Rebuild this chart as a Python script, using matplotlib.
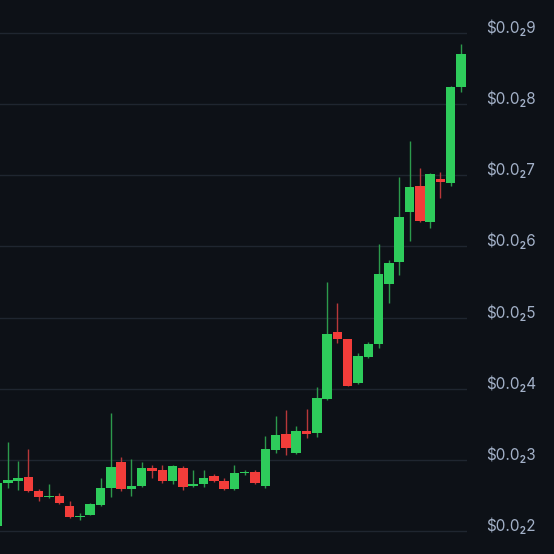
import numpy as np
import matplotlib.pyplot as plt

# candle data (price in $)
opens = [0.002070, 0.002675, 0.002703, 0.002759, 0.002562, 0.002478, 0.002492, 0.002351,
         0.002197, 0.002225, 0.002365, 0.002604, 0.002970, 0.002590, 0.002633, 0.002886,
         0.002857, 0.002703, 0.002886, 0.002633, 0.002661, 0.002773, 0.002703, 0.002590,
         0.002815, 0.002829, 0.002633, 0.003139, 0.003363, 0.003096, 0.003406, 0.003378,
         0.003856, 0.004797, 0.004699, 0.004080, 0.004446, 0.004629, 0.005472, 0.005781,
         0.006484, 0.006850, 0.006344, 0.006948, 0.006892, 0.008241]
highs = [0.002680, 0.003251, 0.002984, 0.003153, 0.002590, 0.002661, 0.002534, 0.002422,
         0.002253, 0.002394, 0.002745, 0.003659, 0.003040, 0.003012, 0.002970, 0.002928,
         0.002928, 0.002928, 0.002914, 0.002857, 0.002857, 0.002801, 0.002745, 0.002928,
         0.002857, 0.002857, 0.003335, 0.003617, 0.003701, 0.003476, 0.003715, 0.004024,
         0.005500, 0.005205, 0.004699, 0.004502, 0.004657, 0.006034, 0.005810, 0.006976,
         0.007482, 0.007103, 0.007032, 0.007046, 0.008255, 0.008846]
lows = [0.002060, 0.002604, 0.002576, 0.002548, 0.002422, 0.002464, 0.002380, 0.002183,
        0.002155, 0.002225, 0.002351, 0.002478, 0.002562, 0.002492, 0.002619, 0.002745,
        0.002675, 0.002661, 0.002576, 0.002619, 0.002619, 0.002689, 0.002576, 0.002576,
        0.002787, 0.002661, 0.002604, 0.003096, 0.003068, 0.003082, 0.003307, 0.003321,
        0.003840, 0.004643, 0.004038, 0.004066, 0.004432, 0.004572, 0.005205, 0.005599,
        0.006077, 0.006344, 0.006259, 0.006681, 0.006850, 0.008171]
closes = [0.002670, 0.002717, 0.002745, 0.002562, 0.002478, 0.002492, 0.002394, 0.002197,
          0.002211, 0.002380, 0.002604, 0.002900, 0.002590, 0.002633, 0.002886, 0.002843,
          0.002703, 0.002914, 0.002619, 0.002661, 0.002745, 0.002703, 0.002590, 0.002815,
          0.002829, 0.002675, 0.003153, 0.003349, 0.003167, 0.003406, 0.003363, 0.003870,
          0.004769, 0.004699, 0.004038, 0.004460, 0.004629, 0.005613, 0.005767, 0.006414,
          0.006835, 0.006358, 0.007018, 0.006906, 0.008241, 0.008705]

ticks = [0.002, 0.003, 0.004, 0.005, 0.006, 0.007, 0.008, 0.009]
tick_labels = ["$0.0\u20822", "$0.0\u20823", "$0.0\u20824", "$0.0\u20825",
               "$0.0\u20826", "$0.0\u20827", "$0.0\u20828", "$0.0\u20829"]

bg = "#0d1117"
green = "#2ecc5b"
red = "#f23d3a"

o = np.array(opens)
h = np.array(highs)
l = np.array(lows)
c = np.array(closes)
x = np.arange(len(o))
up = c >= o
cols = np.where(up, green, red)
wick_cols = np.where(up, "#2c9a4c", "#b8383a")

fig = plt.figure(figsize=(5.54, 5.54), dpi=100, facecolor=bg)
ax = fig.add_axes([0, 0, 467/554, 1])
ax.set_facecolor(bg)

for t in ticks:
    ax.axhline(t, color="#1f2630", lw=1, zorder=0)

ax.vlines(x, l, h, colors=wick_cols, lw=1, zorder=2)
bottoms = np.minimum(o, c)
heights = np.abs(c - o)
ax.bar(x, heights, bottom=bottoms, width=0.92, color=cols, zorder=3, linewidth=0)

ax.set_xlim(0.243, 45.58)
ax.set_ylim(0.001677, 0.009464)
ax.set_xticks([])
ax.set_yticks([])
for s in ax.spines.values():
    s.set_visible(False)

for t, lab in zip(ticks, tick_labels):
    y = ax.transData.transform((0, t))[1]
    fig.text(486/554, y / fig.bbox.height, lab, color="#a3b1c8", fontsize=11,
             family=["Inter", "DejaVu Sans"], va="baseline", ha="left")

plt.savefig("out.png", facecolor=bg)
